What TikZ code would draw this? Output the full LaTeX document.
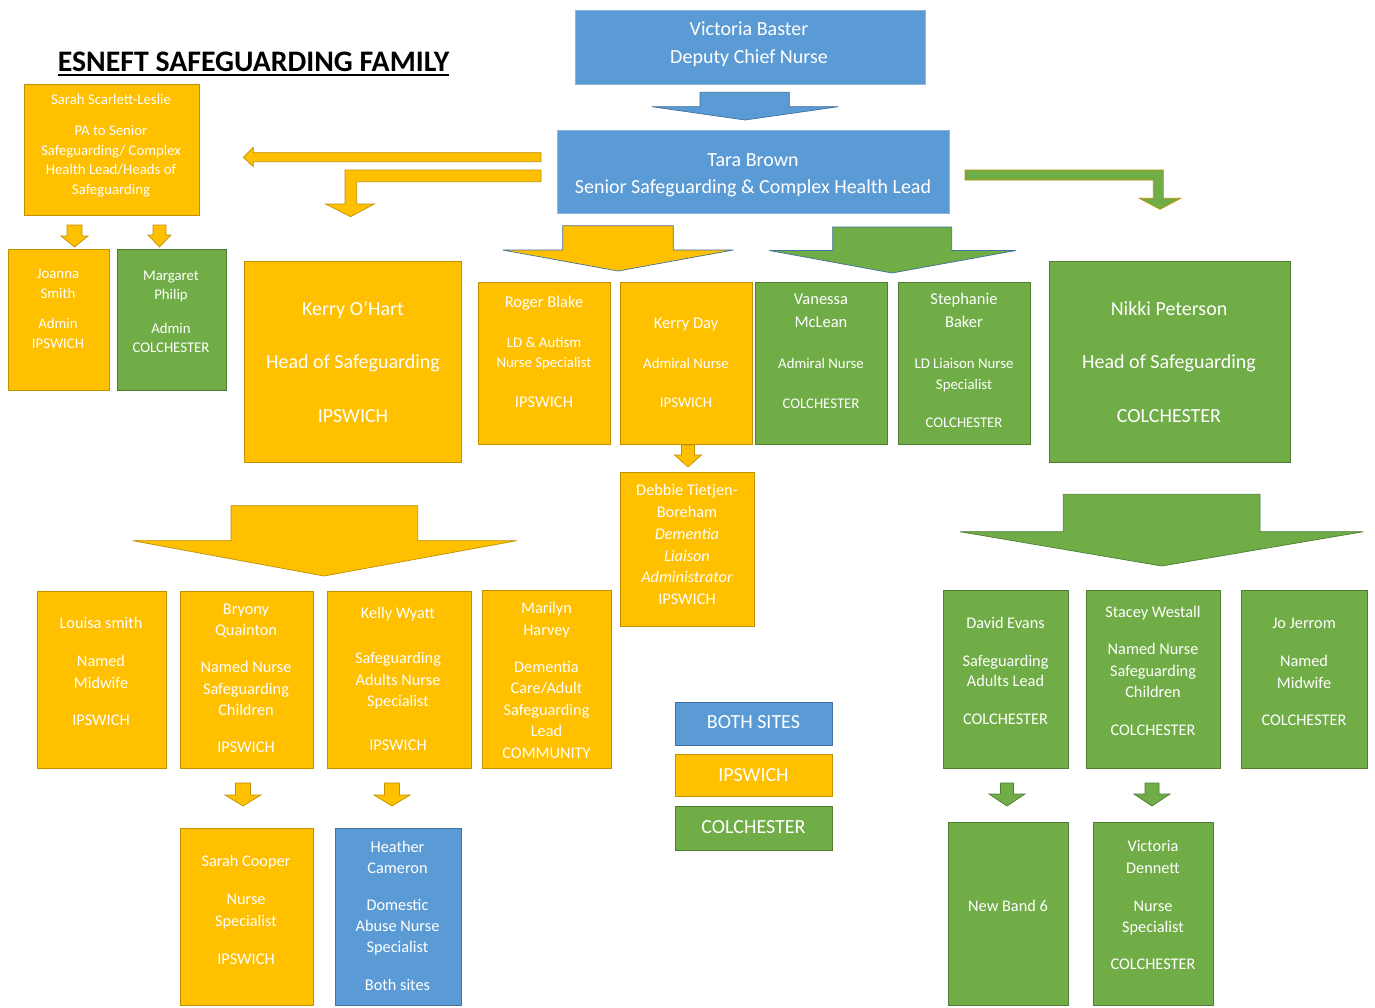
\documentclass[tikz,border=0pt]{standalone}
\usepackage{fontspec}
\setmainfont{Carlito}
\newcommand\fsz[2]{\fontsize{#1}{#2}\selectfont}
% small down arrow: style, cx, ytop, yhead, ytip, shaft half width, head half width
\newcommand\sarr[7]{\draw[#1] (#2-#6,#3) -- (#2+#6,#3) -- (#2+#6,#4) -- (#2+#7,#4) -- (#2,#5) -- (#2-#7,#4) -- (#2-#6,#4) -- cycle;}
% box from corners: name, style, x1, y1, x2, y2
\newcommand\bx[6]{\node[#2, minimum width={#5-#3}, minimum height={#6-#4}] (#1) at ({(#3+#5)/2},{(#4+#6)/2}) {};}
\definecolor{yfill}{HTML}{FFC000}
\definecolor{yline}{HTML}{BF9000}
\definecolor{gfill}{HTML}{70AD47}
\definecolor{gline}{HTML}{507E32}
\definecolor{bfill}{HTML}{5B9BD5}
\definecolor{bline}{HTML}{41719C}
\definecolor{blight}{HTML}{8AB6E0}
\tikzset{
  boxbase/.style={line width=0.9pt, inner sep=0pt},
  ybox/.style={boxbase, fill=yfill, draw=yline},
  gbox/.style={boxbase, fill=gfill, draw=gline},
  bbox/.style={boxbase, fill=bfill, draw=bline},
  btop/.style={boxbase, fill=bfill, draw=blight},
  txt/.style={text=white, align=center, inner sep=0pt, yshift=-1pt},
  arrbase/.style={line width=0.7pt, line join=miter},
  yarr/.style={arrbase, fill=yfill, draw=yline},
  yarrb/.style={arrbase, fill=yfill, draw=bline},
  garr/.style={arrbase, fill=gfill, draw=gline},
  garrb/.style={arrbase, fill=gfill, draw=bline},
  garry/.style={arrbase, fill=gfill, draw=yline},
  barr/.style={arrbase, fill=bfill, draw=bline},
}
\begin{document}
\begin{tikzpicture}[x=1pt,y=-1pt]
\useasboundingbox[fill=white] (0,0) rectangle (1375,1007);

% title
\node[font=\fsz{29.8}{32}\bfseries, anchor=base, inner sep=0pt] (title) at (253.5,71.5) {ESNEFT SAFEGUARDING FAMILY};
\draw[line width=1.6pt] ([yshift=-3.5pt]title.base west) -- ([yshift=-3.5pt]title.base east);

% boxes
\bx{vb}{btop}{575}{10}{925}{84}
\bx{tb}{btop}{557}{130}{949}{213}
\bx{ss}{ybox}{24}{84}{199}{215}
\bx{js}{ybox}{8}{249}{109}{390}
\bx{mp}{gbox}{117}{249}{226}{390}
\bx{ko}{ybox}{244}{261}{461}{462}
\bx{rb}{ybox}{478}{282}{610}{444}
\bx{kd}{ybox}{620}{282}{752}{444}
\bx{vm}{gbox}{755}{282}{887}{444}
\bx{sb}{gbox}{898}{282}{1030}{444}
\bx{np}{gbox}{1049}{261}{1290}{462}
\bx{dt}{ybox}{620}{472}{754}{626}
\bx{ls}{ybox}{37}{591}{166}{768}
\bx{bq}{ybox}{180}{591}{313}{768}
\bx{kw}{ybox}{327}{591}{471}{768}
\bx{mh}{ybox}{482}{590}{611}{768}
\bx{lb}{bbox}{675}{702}{832}{745}
\bx{li}{ybox}{675}{754}{832}{796}
\bx{lc}{gbox}{675}{806}{832}{850}
\bx{sc}{ybox}{180}{828}{313}{1005}
\bx{hc}{bbox}{335}{828}{461}{1005}
\bx{de}{gbox}{943}{590}{1068}{768}
\bx{sw}{gbox}{1086}{590}{1220}{768}
\bx{jj}{gbox}{1241}{590}{1367}{768}
\bx{nb}{gbox}{948}{822}{1068}{1005}
\bx{vd}{gbox}{1093}{822}{1213}{1005}

% texts
\node[txt, font=\fsz{20}{28}] (vbt) at (749,43.5) {Victoria Baster\\Deputy Chief Nurse};
\node[txt, font=\fsz{20}{27}] (tbt) at (753,174.5) {Tara Brown\\Senior Safeguarding \& Complex Health Lead};
\node[txt, font=\fsz{14.8}{19.5}] (sst) at (111,144.5) {Sarah Scarlett-Leslie\\[11.5pt]PA to Senior\\Safeguarding/ Complex\\Health Lead/Heads of\\Safeguarding};
\node[txt, font=\fsz{14.8}{20}] (jst) at (58,307.5) {Joanna\\Smith\\[10pt]Admin\\IPSWICH};
\node[txt, font=\fsz{14.8}{19}] (mpt) at (171,310.5) {Margaret\\Philip\\[15pt]Admin\\COLCHESTER};
\node[txt, font=\fsz{20}{27}] (kot) at (353,361) {Kerry O’Hart\\[26pt]Head of Safeguarding\\[27pt]IPSWICH};
\node[txt, font=\fsz{20}{27}] (npt) at (1169,361) {Nikki Peterson\\[26pt]Head of Safeguarding\\[27pt]COLCHESTER};
\node[txt, font=\fsz{14.8}{20}] (rbt) at (544,351) {{\fsz{16.5}{20}Roger Blake}\\[20pt]LD \& Autism\\Nurse Specialist\\[20pt]{\fsz{16.5}{20}IPSWICH}};
\node[txt, font=\fsz{14.8}{20}] (kdt) at (686,361.5) {{\fsz{16.5}{20}Kerry Day}\\[20pt]Admiral Nurse\\[19pt]IPSWICH};
\node[txt, font=\fsz{14.8}{21}] (vmt) at (821,350) {{\fsz{16.5}{21}Vanessa}\\[2pt]{\fsz{16.5}{21}McLean}\\[20pt]Admiral Nurse\\[19pt]COLCHESTER};
\node[txt, font=\fsz{14.8}{21}] (sbt) at (964,359.5) {{\fsz{16.5}{21}Stephanie}\\[2pt]{\fsz{16.5}{21}Baker}\\[20pt]LD Liaison Nurse\\Specialist\\[17pt]COLCHESTER};
\node[txt, font=\fsz{16.3}{21.8}] (dtt) at (687,543.5) {Debbie Tietjen-\\Boreham\\\textit{Dementia}\\\textit{Liaison}\\\textit{Administrator}\\IPSWICH};
\node[txt, font=\fsz{16.3}{22}] (lst) at (101,670.5) {Louisa smith\\[16pt]Named\\Midwife\\[15pt]IPSWICH};
\node[txt, font=\fsz{16.3}{21.5}] (bqt) at (246,677.5) {Bryony\\Quainton\\[15.5pt]Named Nurse\\Safeguarding\\Children\\[15.5pt]IPSWICH};
\node[txt, font=\fsz{16.3}{21.5}] (kwt) at (398,678) {Kelly Wyatt\\[23.5pt]Safeguarding\\Adults Nurse\\Specialist\\[22.5pt]IPSWICH};
\node[txt, font=\fsz{16.3}{21.5}] (mht) at (546.5,679.5) {Marilyn\\Harvey\\[15.5pt]Dementia\\Care/Adult\\Safeguarding\\Lead\\COMMUNITY};
\node[txt, font=\fsz{20}{24}] (lbt) at (753.5,721.5) {BOTH SITES};
\node[txt, font=\fsz{20}{24}] (lit) at (753.5,774.5) {IPSWICH};
\node[txt, font=\fsz{20}{24}] (lct) at (753.5,826) {COLCHESTER};
\node[txt, font=\fsz{16.3}{22}] (sct) at (246,909) {Sarah Cooper\\[16pt]Nurse\\Specialist\\[16pt]IPSWICH};
\node[txt, font=\fsz{16.3}{21}] (hct) at (397.5,914.5) {Heather\\Cameron\\[16pt]Domestic\\Abuse Nurse\\Specialist\\[17pt]Both sites};
\node[txt, font=\fsz{16.3}{20.5}] (det) at (1005.5,670) {David Evans\\[17.5pt]Safeguarding\\Adults Lead\\[17.5pt]COLCHESTER};
\node[txt, font=\fsz{16.3}{21.5}] (swt) at (1153,670) {Stacey Westall\\[15.5pt]Named Nurse\\Safeguarding\\Children\\[16.5pt]COLCHESTER};
\node[txt, font=\fsz{16.3}{22}] (jjt) at (1304,670.5) {Jo Jerrom\\[16pt]Named\\Midwife\\[15pt]COLCHESTER};
\node[txt, font=\fsz{16.3}{22}] (nbt) at (1008,905) {New Band 6};
\node[txt, font=\fsz{16.3}{21.5}] (vdt) at (1153,904) {Victoria\\Dennett\\[16.5pt]Nurse\\Specialist\\[15.5pt]COLCHESTER};

% block arrows
\draw[barr] (700,92.3) -- (789.3,92.3) -- (789.3,106.7) -- (838.3,106.7) -- (745,120) -- (651.7,106.7) -- (700,106.7) -- cycle;
\draw[yarrb] (562.7,225.7) -- (673.3,225.7) -- (673.3,250) -- (733.3,250) -- (618,271) -- (502.7,250) -- (562.7,250) -- cycle;
\draw[garrb] (832.7,227) -- (951.7,227) -- (951.7,250.5) -- (1016,250.5) -- (892,273) -- (769.3,250.5) -- (832.7,250.5) -- cycle;
\draw[yarr] (231,505.7) -- (417.7,505.7) -- (417.7,540.7) -- (516.7,540.7) -- (324,576) -- (132.7,540.7) -- (231,540.7) -- cycle;
\draw[garr] (1063.3,494.3) -- (1260,494.3) -- (1260,531.7) -- (1363.3,531.7) -- (1161.7,566) -- (960,531.7) -- (1063.3,531.7) -- cycle;
\draw[yarr] (541,152.7) -- (253.3,152.7) -- (253.3,147.3) -- (243.3,157.2) -- (253.3,166.7) -- (253.3,161.7) -- (541,161.7) -- cycle;
\draw[yarr] (541,170) -- (345,170) -- (345,204) -- (325.7,204) -- (350.5,216.7) -- (374.3,204) -- (356.7,204) -- (356.7,181.7) -- (541,181.7) -- cycle;
\draw[garry] (965,170) -- (1163.3,170) -- (1163.3,198.3) -- (1180.7,198.3) -- (1160,209.3) -- (1139.3,198.3) -- (1153.3,198.3) -- (1153.3,180) -- (965,180) -- cycle;

% small arrows
\sarr{yarr}{74.5}{225}{236}{247}{7.5}{13.5}
\sarr{yarr}{159.5}{225}{235}{247}{6.5}{11.5}
\sarr{yarr}{688}{445}{455}{467}{6.5}{13.5}
\sarr{yarr}{243}{783}{795}{806}{7.5}{18}
\sarr{yarr}{392}{783}{795}{806}{7.5}{18}
\sarr{garr}{1007}{783}{794}{806}{6.5}{18}
\sarr{garr}{1152}{783}{794}{806}{7}{18}
\end{tikzpicture}
\end{document}
